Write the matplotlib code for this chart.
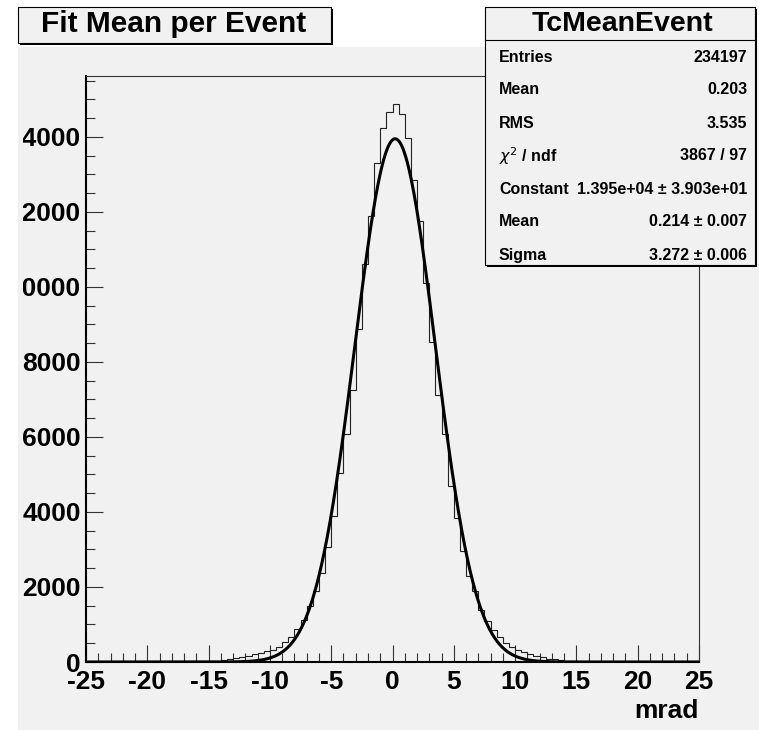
import numpy as np
import matplotlib
matplotlib.use('Agg')
import matplotlib.pyplot as plt
from matplotlib.patches import Rectangle
from matplotlib.transforms import Bbox, TransformedBbox

########## DATOS ##########

# histograma TcMeanEvent: 100 bins de 0.5 mrad entre -25 y 25
bin_edges = np.linspace(-25, 25, 101)
counts = [
    1, 0, 1, 1, 2, 1, 2, 3, 3, 4,
    4, 5, 6, 7, 9, 10, 12, 15, 19, 24,
    30, 38, 50, 70, 105, 140, 170, 205, 245, 280,
    320, 395, 530, 660, 870, 1120, 1480, 1880, 2370, 3060,
    3880, 5030, 6070, 7250, 8870, 10620, 11900, 13300, 14230, 14660,
    14880, 14620, 13970, 12840, 11770, 10100, 8520, 7120, 6070, 4690,
    3830, 2970, 2300, 1890, 1390, 1100, 845, 658, 498, 410,
    320, 270, 200, 150, 120, 90, 70, 50, 35, 25,
    19, 15, 11, 9, 7, 6, 5, 4, 3, 3,
    2, 2, 1, 1, 1, 1, 0, 1, 0, 0,
]

# parámetros del ajuste gaussiano
fit_constant = 1.395e4
fit_mean = 0.214
fit_sigma = 3.272

# caja de estadísticas
stat_names = ['Entries', 'Mean', 'RMS', r'$\chi^{2}$ / ndf', 'Constant', 'Mean', 'Sigma']
stat_values = ['234197', '0.203', '3.535', '3867 / 97',
               '1.395e+04 ± 3.903e+01', '0.214 ± 0.007', '3.272 ± 0.006']

x_ticks = [-25, -20, -15, -10, -5, 0, 5, 10, 15, 20, 25]
y_ticks = [0, 2000, 4000, 6000, 8000, 10000, 12000, 14000]

########## FIGURA ##########

W, H = 759, 730
GREY = '#f1f1f1'
FONT = 'Liberation Sans'

def fx(px):
    return px / W

def fy(py):
    return 1 - py / H

fig = plt.figure(figsize=(W / 100, H / 100), dpi=100, facecolor='white')

# fondo gris del pad
fig.add_artist(Rectangle((fx(18), 0), 1 - fx(18), fy(47), transform=fig.transFigure,
                         facecolor=GREY, edgecolor='none', zorder=0))

ax = fig.add_axes([fx(86), fy(662), fx(699) - fx(86), fy(76) - fy(662)])
ax.set_facecolor(GREY)

ax.stairs(counts, bin_edges, color='#222222', linewidth=0.8, zorder=2)

xs = np.linspace(-25, 25, 1000)
ax.plot(xs, fit_constant * np.exp(-0.5 * ((xs - fit_mean) / fit_sigma) ** 2),
        color='black', linewidth=2.2, zorder=3)

ax.set_xlim(-25, 25)
ax.set_ylim(0, 1.05 * max(counts))

ax.set_xticks(x_ticks)
ax.set_xticks(np.arange(-25, 26, 1), minor=True)
ax.set_yticks(y_ticks)
ax.set_yticks(np.arange(0, 15501, 500), minor=True)
ax.set_xticklabels([str(t) for t in x_ticks], fontsize=19, fontweight='bold', family=FONT)
ax.set_yticklabels([str(t) for t in y_ticks], fontsize=19, fontweight='bold', family=FONT)

ax.tick_params(which='both', direction='in', top=False, right=False, color='#333333', width=0.8)
ax.tick_params(which='major', length=12.3)
ax.tick_params(which='minor', length=6.4)
ax.tick_params(axis='x', which='major', pad=6.0)
ax.tick_params(axis='y', which='major', pad=3.8)

for side in ['left', 'bottom']:
    ax.spines[side].set_linewidth(1.5)
    ax.spines[side].set_color('black')
for side in ['top', 'right']:
    ax.spines[side].set_linewidth(0.8)
    ax.spines[side].set_color('#333333')

ax.set_xlabel('mrad', loc='right', fontsize=19, fontweight='bold', family=FONT, labelpad=3)

# caja con sombra
def caja(x0, y0, x1, y1):
    fig.add_artist(Rectangle((fx(x0 + 2), fy(y1 + 2)), fx(x1 - x0), fy(y0) - fy(y1),
                             transform=fig.transFigure, facecolor='black',
                             edgecolor='none', zorder=5))
    fig.add_artist(Rectangle((fx(x0), fy(y1)), fx(x1 - x0), fy(y0) - fy(y1),
                             transform=fig.transFigure, facecolor=GREY,
                             edgecolor='black', linewidth=0.8, zorder=6))

caja(18, 7, 331, 43)
fig.text(fx(174), fy(24), 'Fit Mean per Event', ha='center', va='center',
         fontsize=21.5, fontweight='bold', family=FONT, zorder=7)

# caja de estadísticas
caja(485, 7, 755, 265)
fig.add_artist(plt.Line2D([fx(485), fx(755)], [fy(40), fy(40)], transform=fig.transFigure,
                          color='black', linewidth=0.8, zorder=7))
fig.text(fx(622), fy(24), 'TcMeanEvent', ha='center', va='center',
         fontsize=20.5, fontweight='bold', family=FONT, zorder=7)
for i, (nombre, valor) in enumerate(zip(stat_names, stat_values)):
    y = fy(57 + i * 33)
    fig.text(fx(499), y, nombre, ha='left', va='center', fontsize=11.5,
             fontweight='bold', family=FONT, zorder=7)
    fig.text(fx(747), y, valor, ha='right', va='center', fontsize=11.5,
             fontweight='bold', family=FONT, zorder=7)

# las etiquetas del eje Y se cortan en el borde del pad
fig.canvas.draw()
clip = TransformedBbox(Bbox([[fx(22.5), 0], [1, 1]]), fig.transFigure)
for lab in ax.get_yticklabels():
    lab.set_clip_on(True)
    lab.set_clip_box(clip)

fig.savefig('out.png', dpi=100, facecolor='white')
